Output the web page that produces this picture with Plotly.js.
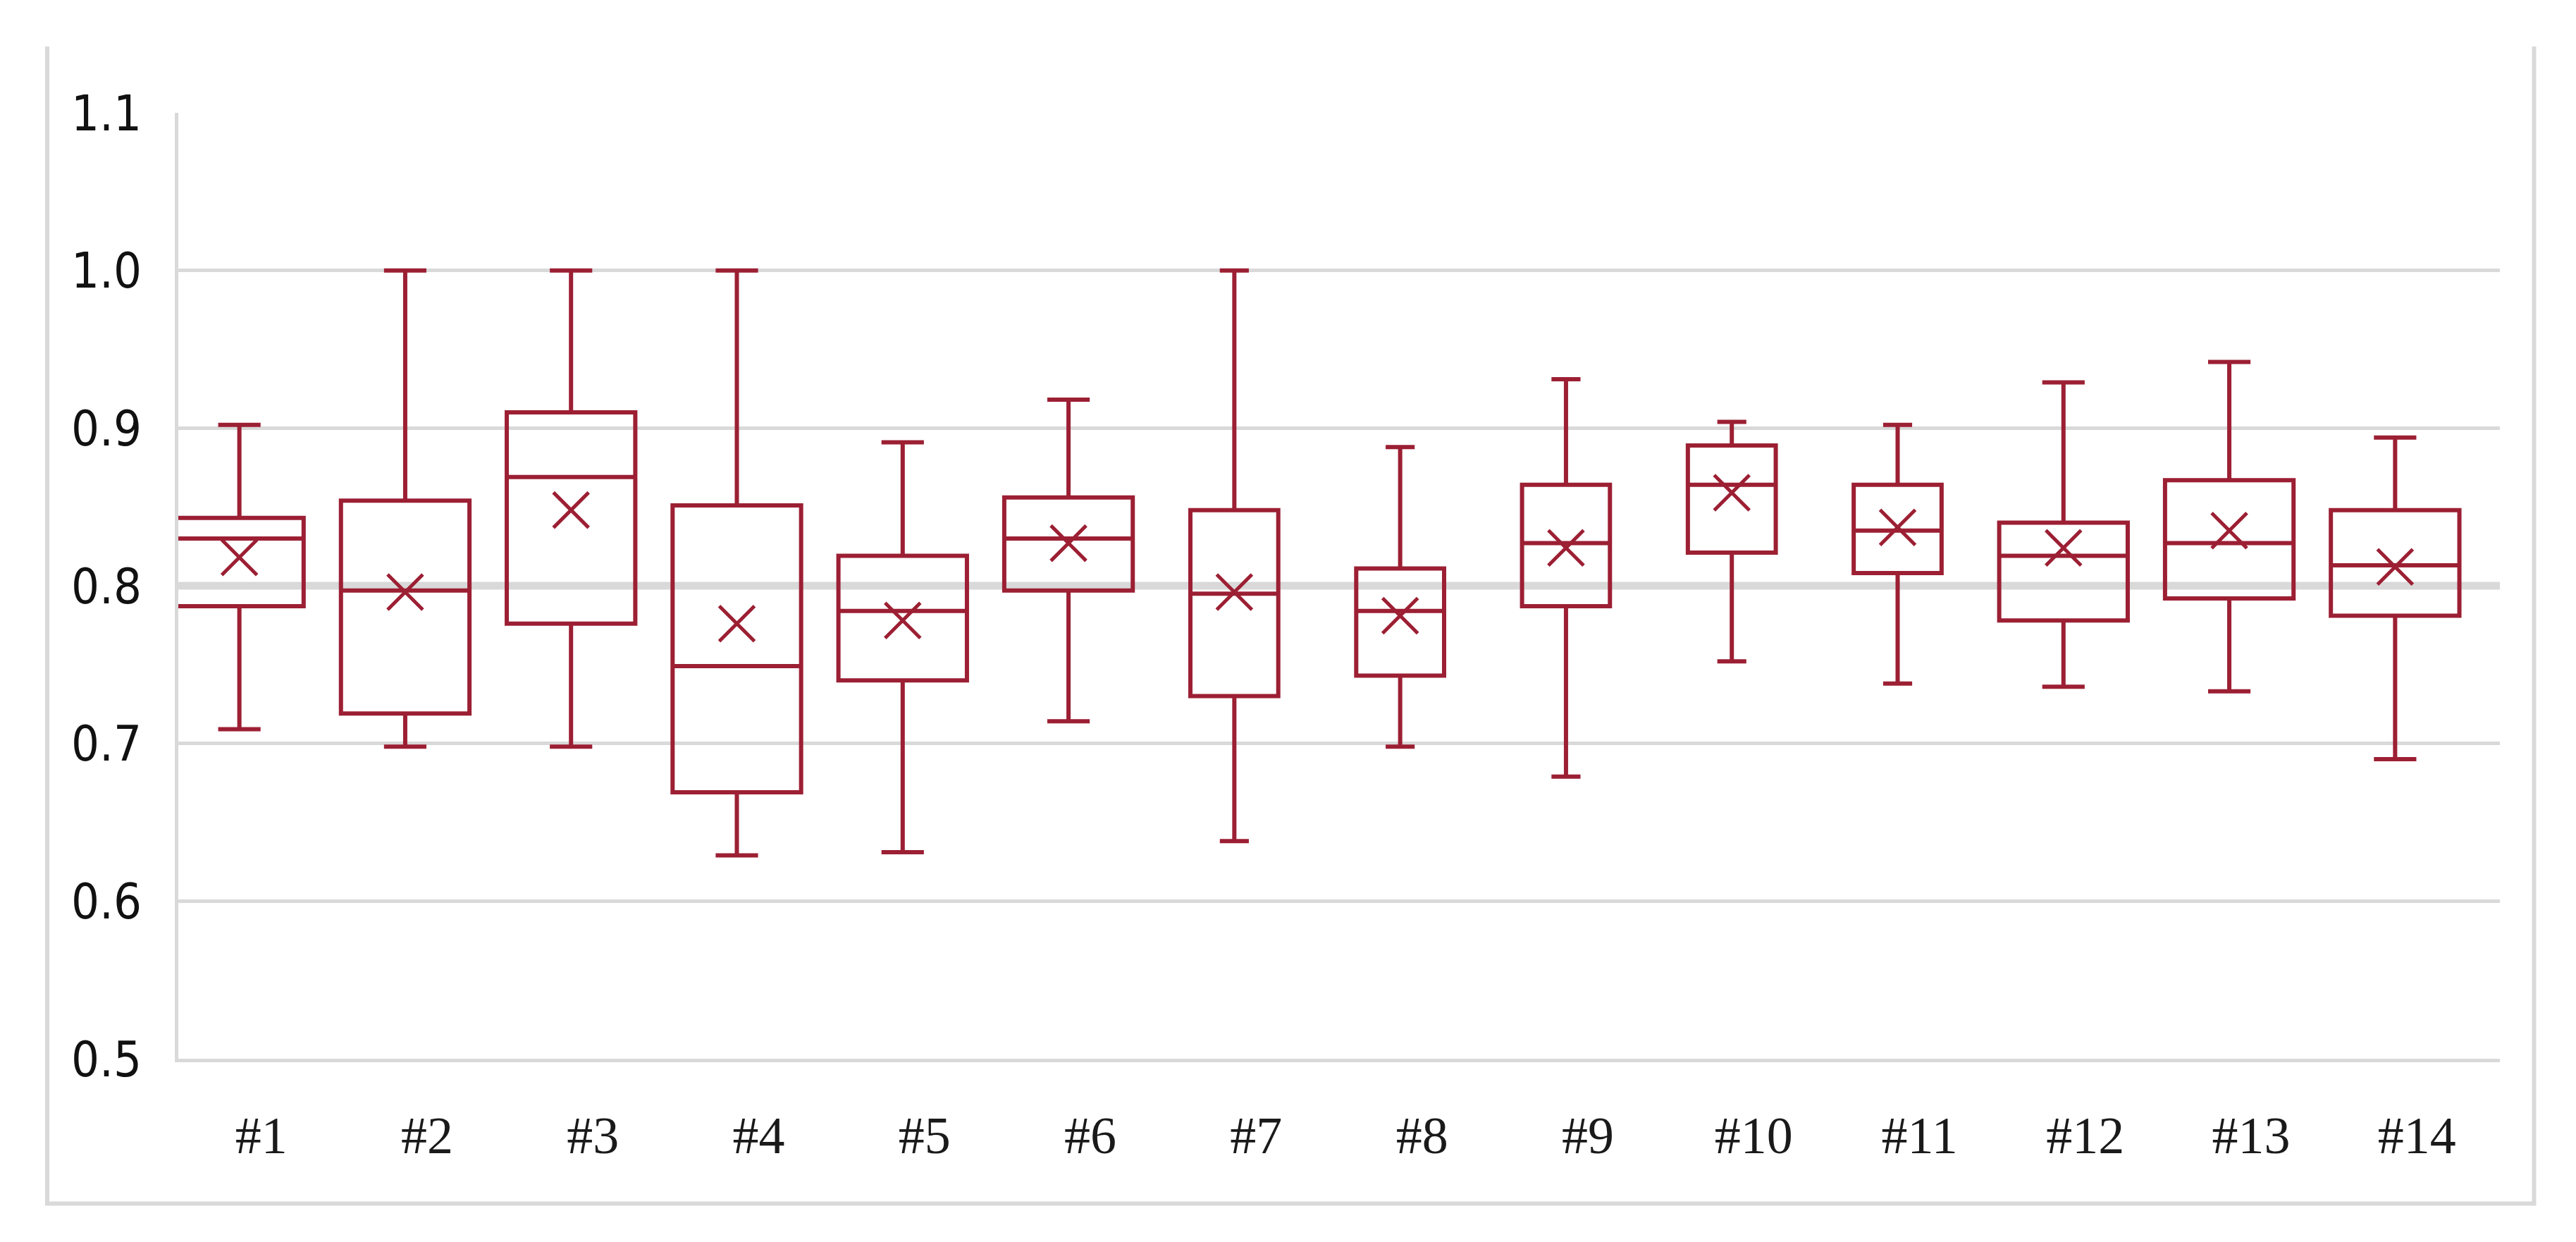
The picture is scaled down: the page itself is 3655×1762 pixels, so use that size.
<!DOCTYPE html>
<html>
<head>
<meta charset="utf-8">
<script src="https://cdn.plot.ly/plotly-3.0.1.min.js"></script>
<style>
  html, body { margin: 0; padding: 0; background: #ffffff; }
  #chart { width: 3655px; height: 1762px; }
</style>
</head>
<body>
<div id="chart"></div>
<script>
// ---- data ----
const categories = ['#1','#2','#3','#4','#5','#6','#7','#8','#9','#10','#11','#12','#13','#14'];
const upperWhisker = [0.902, 1.000, 1.000, 1.000, 0.891, 0.918, 1.000, 0.888, 0.931, 0.904, 0.902, 0.929, 0.942, 0.894];
const q3Values     = [0.843, 0.854, 0.910, 0.851, 0.819, 0.856, 0.848, 0.811, 0.864, 0.889, 0.864, 0.840, 0.867, 0.848];
const medianValues = [0.830, 0.797, 0.869, 0.749, 0.784, 0.830, 0.795, 0.784, 0.827, 0.864, 0.835, 0.819, 0.827, 0.813];
const meanValues   = [0.818, 0.796, 0.848, 0.776, 0.778, 0.827, 0.796, 0.781, 0.824, 0.859, 0.837, 0.824, 0.835, 0.812];
const q1Values     = [0.787, 0.719, 0.776, 0.669, 0.740, 0.797, 0.730, 0.743, 0.787, 0.821, 0.808, 0.778, 0.792, 0.781];
const lowerWhisker = [0.709, 0.698, 0.698, 0.629, 0.631, 0.714, 0.638, 0.698, 0.679, 0.752, 0.738, 0.736, 0.733, 0.690];
const yTickValues  = [0.5, 0.6, 0.7, 0.8, 0.9, 1.0, 1.1];
const yTickLabels  = ['0.5', '0.6', '0.7', '0.8', '0.9', '1.0', '1.1'];
const referenceLine = 0.8;

// ---- styles ----
const RED = '#9c1f33';
const GRID = '#d9d9d9';
const boxWidthWide = 0.775, boxWidthNarrow = 0.53;
const narrowBoxes = ['#7','#8','#9','#10','#11'];
const W = 3655, H = 1762;
const M = { l: 253, r: 108, t: 160, b: 260 };
const boxShiftPx = 31;            // boxes sit slightly left of their labels
const plotW = W - M.l - M.r, plotH = H - M.t - M.b;
const catPx = plotW / categories.length;
const shift = boxShiftPx / catPx;

const traces = categories.map((c, i) => ({
  type: 'box',
  x: [c],
  q1: [q1Values[i]],
  median: [medianValues[i]],
  q3: [q3Values[i]],
  lowerfence: [lowerWhisker[i]],
  upperfence: [upperWhisker[i]],
  width: narrowBoxes.includes(c) ? boxWidthNarrow : boxWidthWide,
  whiskerwidth: 0.33,
  boxpoints: false,
  line: { color: RED, width: 6 },
  fillcolor: 'rgba(255,255,255,0)',
  hoverinfo: 'skip',
  showlegend: false
}));

traces.push({
  type: 'scatter',
  mode: 'markers',
  x: categories,
  y: meanValues,
  marker: { symbol: 'x-thin', size: 50, color: RED, line: { color: RED, width: 5 } },
  hoverinfo: 'skip',
  showlegend: false
});

// outer frame (left, bottom, right sides) in pixel -> paper coords
const px2x = p => (p - M.l) / plotW;
const py2y = p => (H - M.b - p) / plotH;
const fx0 = px2x(67), fx1 = px2x(3595.5), fyTop = py2y(66), fyBot = py2y(1707.5);

const layout = {
  width: W, height: H,
  margin: M,
  paper_bgcolor: '#ffffff',
  plot_bgcolor: '#ffffff',
  boxmode: 'overlay',
  showlegend: false,
  xaxis: {
    type: 'category',
    categoryorder: 'array',
    categoryarray: categories,
    range: [-0.5 + shift, categories.length - 0.5 + shift],
    showgrid: false,
    zeroline: false,
    showline: true,
    linecolor: GRID,
    linewidth: 5,
    ticks: 'outside',
    ticklen: 40,
    tickcolor: 'rgba(0,0,0,0)',
    ticklabelshift: boxShiftPx,
    tickfont: { family: 'Liberation Serif, Times New Roman, serif', size: 74, color: '#1a1a1a' }
  },
  yaxis: {
    range: [0.5, 1.1],
    tickvals: yTickValues,
    ticktext: yTickLabels,
    showgrid: true,
    gridcolor: GRID,
    gridwidth: 5,
    zeroline: false,
    showline: true,
    linecolor: GRID,
    linewidth: 5,
    ticks: 'outside',
    ticklen: 33,
    tickcolor: 'rgba(0,0,0,0)',
    tickfont: { family: 'Liberation Sans Narrow, DejaVu Sans Condensed, Liberation Sans, sans-serif', size: 70, color: '#111111' }
  },
  shapes: [
    { type: 'line', xref: 'paper', yref: 'y', x0: 0, x1: 1, y0: referenceLine, y1: referenceLine,
      line: { color: GRID, width: 11 }, layer: 'below' },
    { type: 'path', xref: 'paper', yref: 'paper',
      path: `M ${fx0},${fyTop} L ${fx0},${fyBot} L ${fx1},${fyBot} L ${fx1},${fyTop}`,
      line: { color: GRID, width: 6 }, layer: 'below' }
  ]
};

Plotly.newPlot('chart', traces, layout, { staticPlot: true, displayModeBar: false });
</script>
</body>
</html>
